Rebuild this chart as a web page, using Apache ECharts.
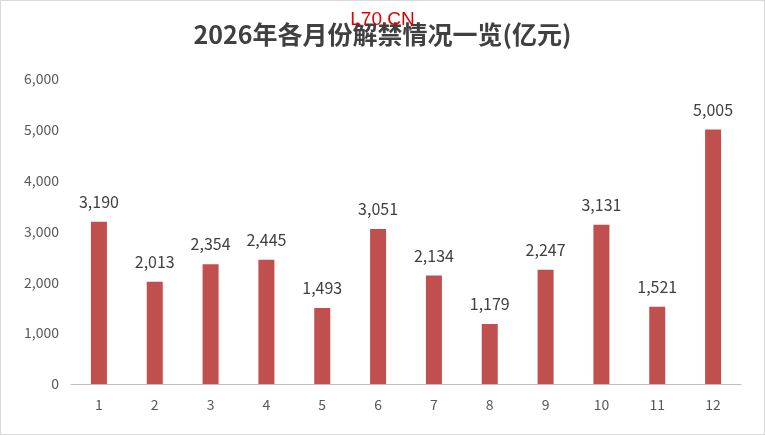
<!DOCTYPE html>
<html><head><meta charset="utf-8">
<script src="https://cdn.jsdelivr.net/npm/echarts@6/dist/echarts.min.js"></script>
<style>html,body{margin:0;padding:0;background:#fff}#c{width:765px;height:435px;box-sizing:border-box;border:1px solid #d9d9d9}</style>
</head><body><div id="c"></div>
<script>
const categories=['1','2','3','4','5','6','7','8','9','10','11','12'];
const values=[3190,2013,2354,2445,1493,3051,2134,1179,2247,3131,1521,5005];
const yTicks=[0,1000,2000,3000,4000,5000,6000];
const chart=echarts.init(document.getElementById('c'));
const font='"Noto Sans CJK SC","Liberation Sans",sans-serif';
chart.setOption({
  animation:false,
  title:[{text:'2026年各月份解禁情况一览(亿元)',left:'center',top:16,textStyle:{fontFamily:font,fontSize:25,fontWeight:'bold',color:'#404040'}},
         {text:'L70.CN',left:'center',top:4,textStyle:{fontFamily:'Liberation Sans',fontSize:19,fontWeight:'normal',color:'#e00000'}}],
  grid:{left:70,right:23,top:78,bottom:50},
  xAxis:{type:'category',data:categories,axisTick:{show:false},axisLine:{lineStyle:{color:'#bfbfbf'}},axisLabel:{color:'#595959',fontSize:14,fontFamily:font,margin:14}},
  yAxis:{type:'value',min:yTicks[0],max:yTicks[yTicks.length-1],interval:1000,splitLine:{show:false},axisLabel:{color:'#595959',fontSize:14,fontFamily:font,margin:12,formatter:v=>v.toLocaleString('en-US')}},
  series:[{type:'bar',data:values,barWidth:16,itemStyle:{color:'#c0504d'},label:{show:true,position:'top',distance:12,color:'#404040',fontSize:16,fontFamily:font,formatter:p=>p.value.toLocaleString('en-US')}}]
});
</script></body></html>
